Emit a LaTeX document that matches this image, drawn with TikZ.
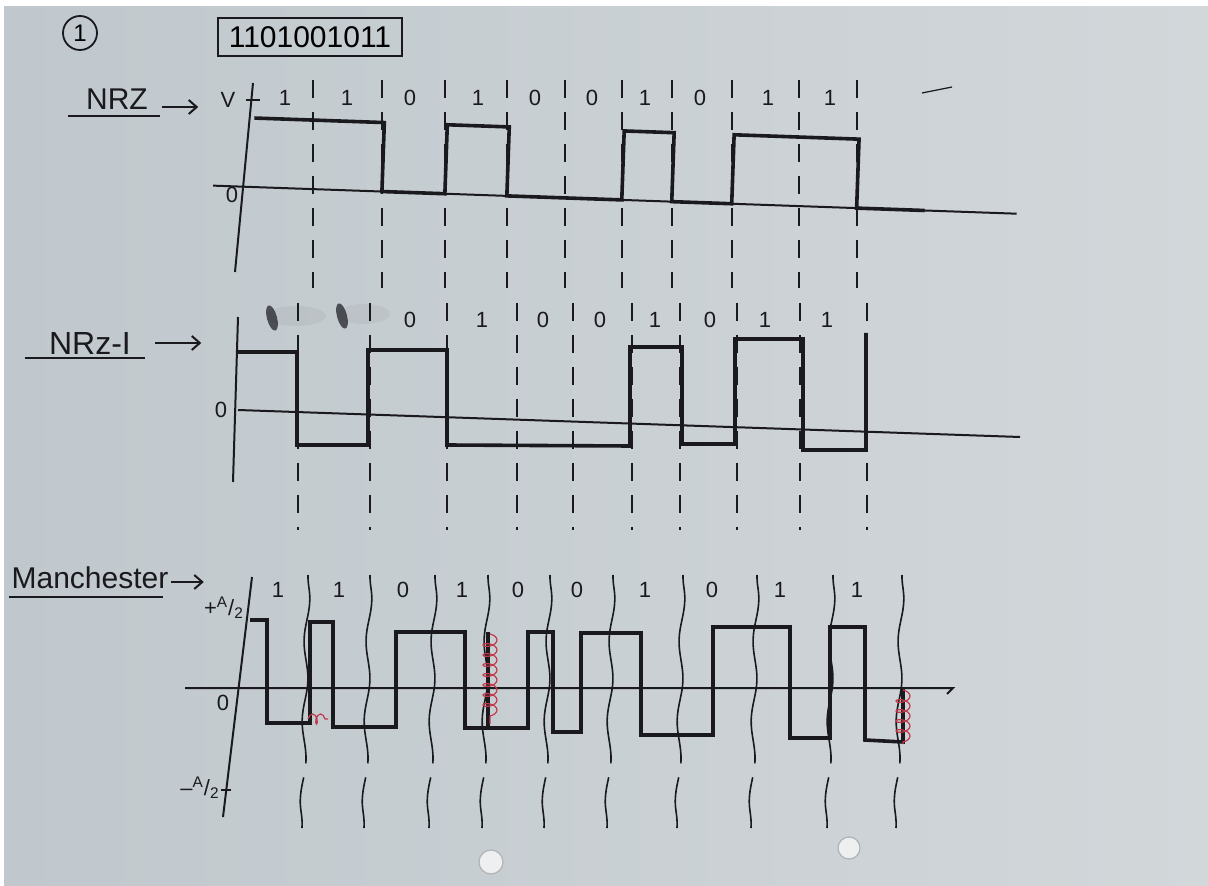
\documentclass[tikz,border=0pt]{standalone}
\usepackage{fontspec}
\setmainfont{Liberation Sans}
\usetikzlibrary{arrows.meta,decorations.pathmorphing}

\definecolor{paperL}{RGB}{192,200,205}
\definecolor{paperR}{RGB}{210,215,218}
\definecolor{ink}{RGB}{25,25,30}
\definecolor{redpen}{RGB}{192,58,76}

\tikzset{
  wave/.style={draw=ink,line width=1.8pt},
  axis/.style={draw=ink,line width=1pt},
  bitline/.style={draw=ink,line width=0.8pt,dash pattern=on 9pt off 7pt},
  mbitline/.style={draw=ink,line width=0.8pt,dash pattern=on 95pt off 7pt,
    decorate,decoration={snake,amplitude=1.2pt,segment length=40pt}},
  bit/.style={text=ink,font=\fontsize{11}{13}\selectfont,inner sep=1pt},
  code/.style={text=ink,font=\fontsize{15}{18}\selectfont,inner sep=1pt},
  level/.style={text=ink,font=\fontsize{11}{13}\selectfont,inner sep=1pt},
  redloops/.style={draw=redpen,line width=0.6pt,decorate,
    decoration={coil,amplitude=3.5pt,segment length=5pt}},
  >={Straight Barb[length=4pt,width=7pt]},
}

\begin{document}
\begin{tikzpicture}[x=0.5pt,y=-0.5pt]
\useasboundingbox (0,0) rectangle (1208,886);
\fill[white] (0,0) rectangle (1208,886);
\shade[left color=paperL,right color=paperR] (4,7) rectangle (1208,886);

% punch holes
\filldraw[fill=paperR!40!white,draw=black!30,line width=0.6pt] (491,862) circle (6pt);
\filldraw[fill=paperR!40!white,draw=black!30,line width=0.6pt] (849,848) circle (5.5pt);

% question number and data word
\node[draw=ink,circle,line width=0.9pt,minimum size=17pt,inner sep=0pt,
      font=\fontsize{12}{14}\selectfont] (qno) at (80,33) {1};
\node[draw=ink,line width=1pt,minimum width=92pt,minimum height=19pt,inner sep=0pt,
      font=\fontsize{15}{18}\selectfont] (seq) at (310,37) {1101001011};

%%% NRZ
\node[code] (nrz) at (117,99) {NRZ};
\draw[axis] ([xshift=-8pt,yshift=-2pt]nrz.south west) -- ([xshift=5pt,yshift=-2pt]nrz.south east);
\draw[axis,->] ([xshift=6pt,yshift=-4pt]nrz.east) -- ++(18pt,0);
\node[level] (nrzV) at (228,100) {V};
\node[level] (nrz0) at (232,195) {0};
\draw[axis] (253,83) -- (235,272);
\draw[axis] (246,100) -- (260,100);
\begin{scope}[rotate around={-2:(252,187)}]
  \draw[axis] (213,187) -- (1017,187);
  \draw[wave] (252,118) -- (382,118) -- (382,187) -- (445,187) -- (445,118)
    -- (507,118) -- (507,187) -- (622,187) -- (622,118) -- (672,118)
    -- (672,187) -- (732,187) -- (732,118) -- (857,118) -- (857,187) -- (925,187);
\end{scope}
\foreach \x in {313,382,445,507,565,622,672,732,799,857}
  \draw[bitline] (\x,80) -- (\x,288);
\foreach \x/\b [count=\i] in {285/1,347/1,410/0,478/1,535/0,592/0,645/1,700/0,768/1,830/1}
  \node[bit] (nrzbit\i) at (\x,98) {\b};
\draw[ink,line width=0.6pt] (922,93) -- (952,87);

%%% NRZ-I
\node[code,font=\fontsize{16}{18}\selectfont] (nrzi) at (90,343) {NRz-I};
\draw[axis] ([xshift=-11pt,yshift=-1pt]nrzi.south west) -- ([xshift=6pt,yshift=-1pt]nrzi.south east);
\draw[axis,->] ([xshift=11pt]nrzi.east) -- ++(23pt,0);
\node[level] (nrzi0) at (221,410) {0};
\draw[axis] (238,317) -- (233,482);
\draw[axis] (238,410) -- (1020,437);
\draw[wave] (238,352) -- (297,352) -- (297,445) -- (368,445) -- (368,350)
  -- (447,350) -- (447,445) -- (630,446) -- (630,347) -- (682,347)
  -- (682,444) -- (735,444) -- (735,339) -- (803,339) -- (803,450)
  -- (866,450) -- (866,333);
\foreach \x in {298,370,447,517,573,632,680,737,800,867}
  \draw[bitline] (\x,303) -- (\x,530);
\foreach \x/\b [count=\i from 3] in {410/0,482/1,543/0,600/0,655/1,710/0,765/1,827/1}
  \node[bit] (nrzibit\i) at (\x,320) {\b};
% rubbed-out first two bits
\fill[ink!70!paperL,rotate around={15:(272,318)}] (272,318) ellipse (2.5pt and 6.5pt);
\fill[ink,opacity=0.05] (296,316) ellipse (15pt and 5pt);
\fill[ink!70!paperL,rotate around={15:(342,316)}] (342,316) ellipse (2.5pt and 6.5pt);
\fill[ink,opacity=0.05] (364,314) ellipse (13pt and 5pt);

%%% Manchester
\node[code] (manch) at (90,578) {Manchester};
\draw[axis] ([yshift=-3pt]manch.south west) -- ([xshift=-4pt,yshift=-3pt]manch.south east);
\draw[axis,->] ([yshift=-2pt]manch.east) -- ++(16.5pt,0);
\node[level] (mhi) at (224,608) {+\textsuperscript{A}/\textsubscript{2}};
\node[level] (mlo) at (200,788) {\textendash\textsuperscript{A}/\textsubscript{2}};
\node[level] (m0) at (223,703) {0};
\draw[axis] (252,577) -- (223,817);
\draw[axis] (221,790) -- (231,790);
\draw[axis] (185,688) -- (953,688) -- (947,694);
\draw[wave] (250,620) -- (267,620) -- (267,723) -- (310,723) -- (310,622)
  -- (333,622) -- (333,727) -- (396,727) -- (396,632) -- (465,632)
  -- (465,728) -- (528,728) -- (528,632) -- (553,632) -- (553,732)
  -- (581,732) -- (581,633) -- (641,633) -- (641,735) -- (713,735)
  -- (713,627) -- (790,627) -- (790,738) -- (830,738) -- (830,627)
  -- (865,627) -- (865,740) -- (903,742) -- (903,688);
\draw[wave] (488,632) -- (488,728);
\foreach \x in {308,370,435,488,550,613,683,757,833,902}
  \draw[mbitline] (\x,575) -- (\x-6,828);
\foreach \x/\b [count=\i] in {278/1,339/1,403/0,462/1,518/0,577/0,645/1,712/0,780/1,857/1}
  \node[bit] (mbit\i) at (\x,590) {\b};
% crossed-out strokes
\draw[redloops] (490,634) -- (490,724);
\draw[redloops] (903,690) -- (903,744);
\draw[redloops,decoration={coil,amplitude=2.5pt,segment length=4pt}] (308,719) -- (328,719);
\end{tikzpicture}
\end{document}
